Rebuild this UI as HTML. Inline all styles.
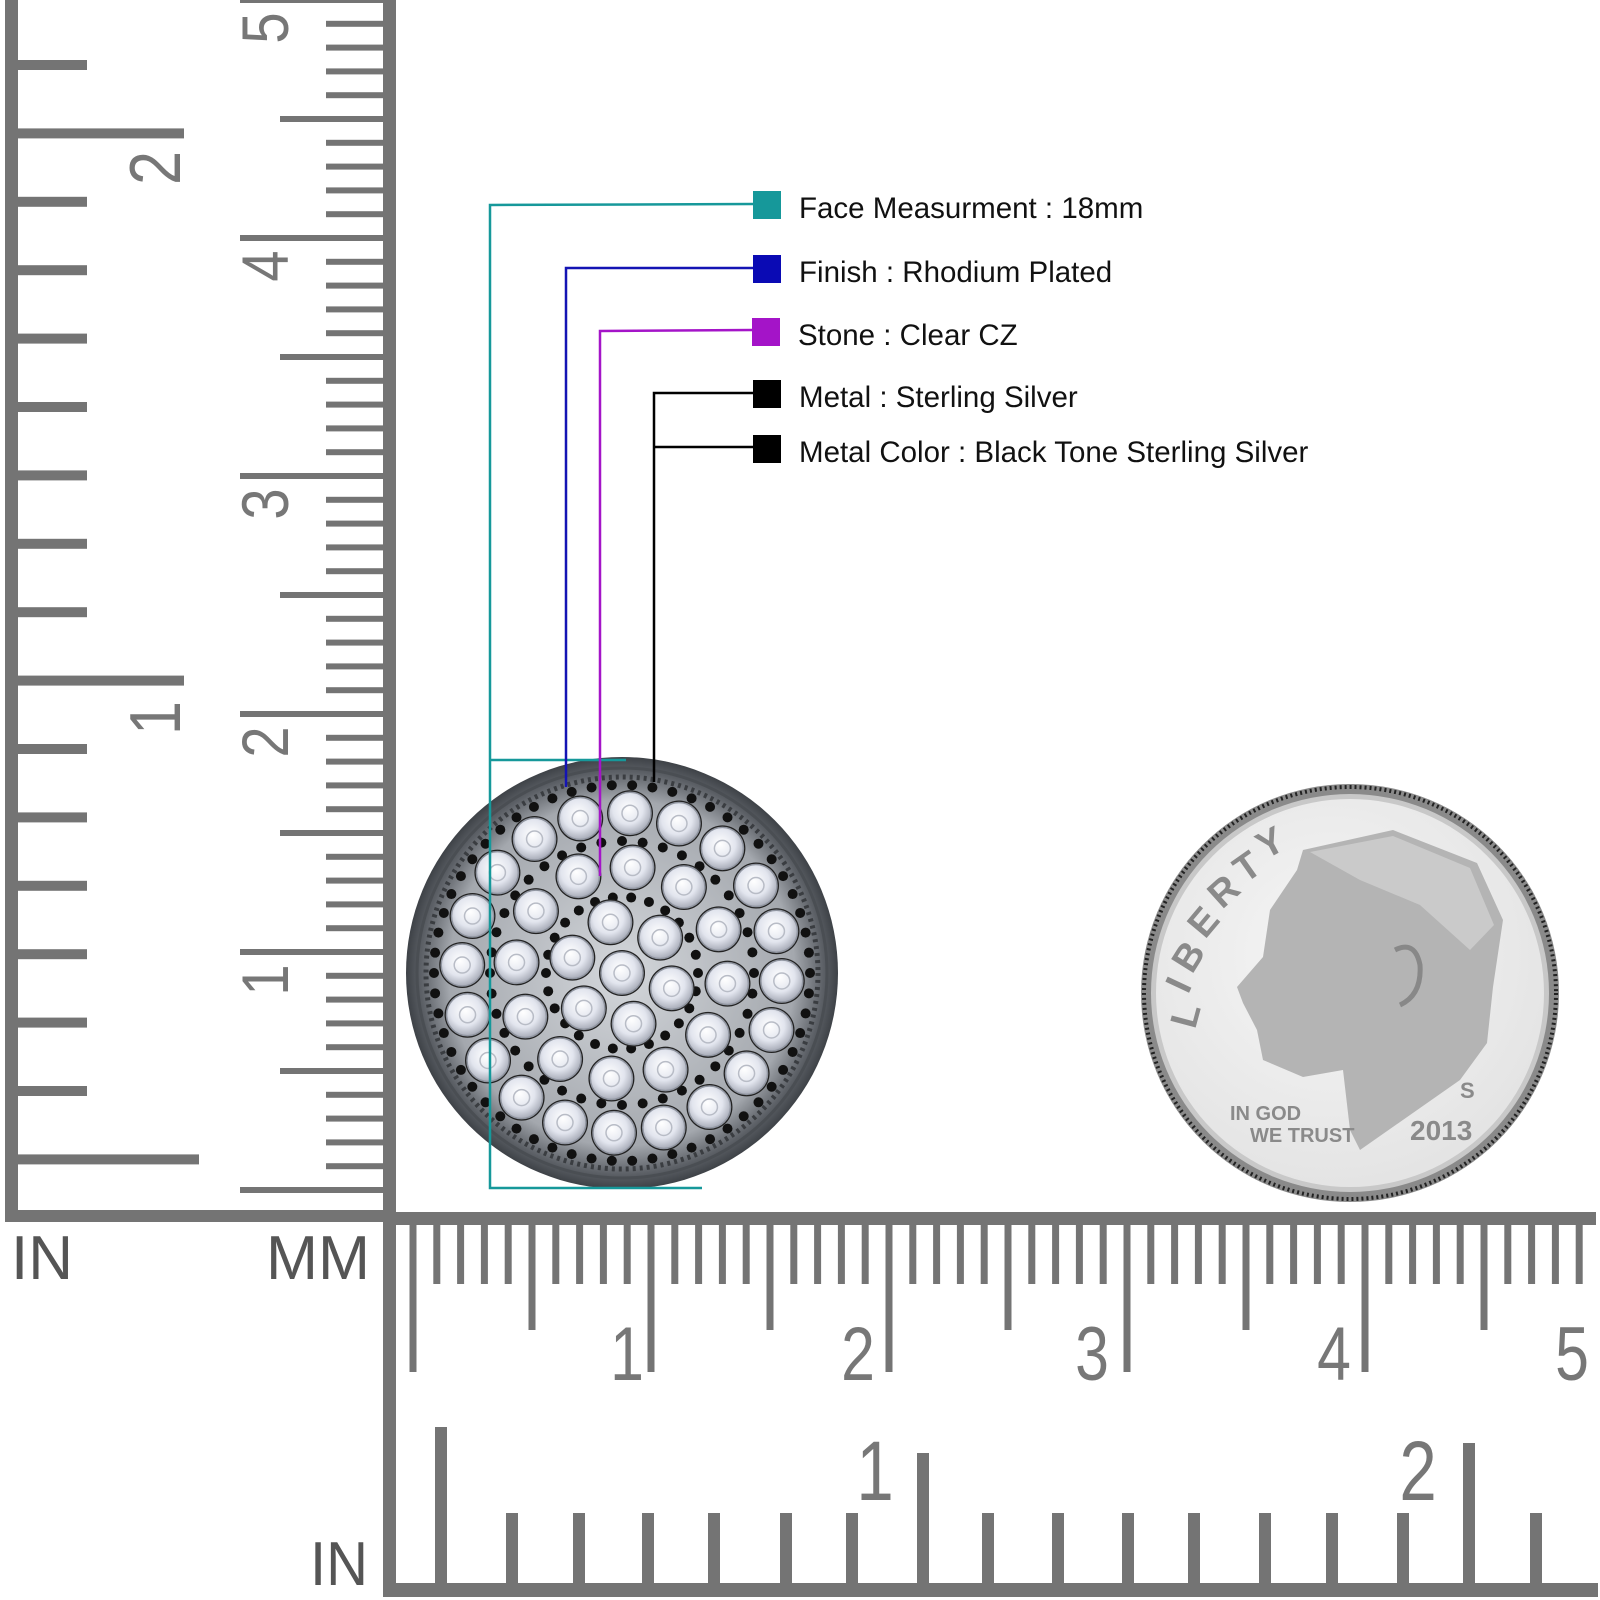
<!DOCTYPE html>
<html><head><meta charset="utf-8">
<style>
html,body{margin:0;padding:0;background:#fff;}
#c{position:relative;width:1600px;height:1600px;overflow:hidden;background:#fff;}
svg{position:absolute;left:0;top:0;}
.lbl{font-family:"Liberation Sans",sans-serif;font-size:29.5px;fill:#111;}
.rn{font-family:"Liberation Sans Narrow","Liberation Sans",sans-serif;fill:#777;}
</style></head>
<body><div id="c">
<svg id="s" width="1600" height="1600" viewBox="0 0 1600 1600" xmlns="http://www.w3.org/2000/svg">
<defs>
<radialGradient id="pg" cx="50%" cy="50%" r="50%">
<stop offset="0" stop-color="#d4d7db"/><stop offset="0.8" stop-color="#a4a8ae"/><stop offset="0.93" stop-color="#5d6167"/><stop offset="1" stop-color="#3e4247"/>
</radialGradient>
<radialGradient id="st" cx="45%" cy="40%" r="60%">
<stop offset="0" stop-color="#ffffff"/><stop offset="0.6" stop-color="#e2e5ee"/><stop offset="1" stop-color="#a8acb8"/>
</radialGradient>
<radialGradient id="dg" cx="45%" cy="40%" r="60%">
<stop offset="0" stop-color="#f6f6f6"/><stop offset="1" stop-color="#e4e4e4"/>
</radialGradient>
</defs>
<g id="rul" fill="#747474"></g>
<g class="rn" font-size="66">
<text transform="translate(288,28) rotate(-90) scale(0.85,1)" text-anchor="middle">5</text>
<text transform="translate(288,266) rotate(-90) scale(0.85,1)" text-anchor="middle">4</text>
<text transform="translate(288,504) rotate(-90) scale(0.85,1)" text-anchor="middle">3</text>
<text transform="translate(288,742) rotate(-90) scale(0.85,1)" text-anchor="middle">2</text>
<text transform="translate(288,980) rotate(-90) scale(0.85,1)" text-anchor="middle">1</text>
<text transform="translate(180,168) rotate(-90) scale(0.85,1)" text-anchor="middle" font-size="72">2</text>
<text transform="translate(180,718) rotate(-90) scale(0.85,1)" text-anchor="middle" font-size="72">1</text>
</g>
<g class="rn" font-size="76">
<text transform="translate(627,1380) scale(0.8,1)" text-anchor="middle">1</text>
<text transform="translate(858,1380) scale(0.8,1)" text-anchor="middle">2</text>
<text transform="translate(1092,1380) scale(0.8,1)" text-anchor="middle">3</text>
<text transform="translate(1334,1380) scale(0.8,1)" text-anchor="middle">4</text>
<text transform="translate(1572,1380) scale(0.8,1)" text-anchor="middle">5</text>
<text transform="translate(875,1500) scale(0.8,1)" text-anchor="middle" font-size="84">1</text>
<text transform="translate(1418,1500) scale(0.8,1)" text-anchor="middle" font-size="84">2</text>
</g>
<g font-family="Liberation Sans Narrow,Liberation Sans,sans-serif" fill="#555" font-size="62">
<text x="11" y="1279" textLength="62" lengthAdjust="spacingAndGlyphs">IN</text>
<text x="266" y="1279" textLength="104" lengthAdjust="spacingAndGlyphs">MM</text>
<text x="310" y="1585" textLength="58" lengthAdjust="spacingAndGlyphs">IN</text>
</g>

<circle cx="622" cy="973" r="216" fill="url(#pg)"/>
<circle cx="622" cy="973" r="205" fill="none" stroke="#4a4e53" stroke-width="3"/>
<circle cx="622" cy="973" r="196" fill="none" stroke="#3a3d41" stroke-width="5" stroke-dasharray="3 4"/>
<g id="pend"></g>

<circle cx="1350" cy="993" r="209" fill="#8a8a8a"/>
<circle cx="1350" cy="993" r="206" fill="none" stroke="#222" stroke-width="4" stroke-dasharray="2 3"/>
<circle cx="1350" cy="993" r="199" fill="#c8c8c8"/>
<circle cx="1350" cy="993" r="194" fill="url(#dg)"/>
<path d="M1303,850 L1393,830 L1477,863 L1503,920 L1493,987 L1487,1043 L1460,1080 L1360,1150 L1350,1130 L1343,1070 L1303,1077 L1263,1060 L1257,1030 L1243,1003 L1237,987 L1263,957 L1270,910 L1297,870 Z" fill="#b4b4b4"/>
<path d="M1310,852 L1393,836 L1470,868 L1494,925 L1470,950 L1420,905 L1360,880 Z" fill="#cacaca"/>
<path d="M1395,950 q20,-10 25,15 q2,30 -20,40" fill="none" stroke="#888" stroke-width="5"/>
<g font-family="Liberation Sans,sans-serif" font-weight="bold" fill="#8a8a8a">
<text font-size="38" transform="translate(1195,1030) rotate(-75)">L</text>
<text font-size="38" transform="translate(1188,995) rotate(-65)">I</text>
<text font-size="38" transform="translate(1192,975) rotate(-58)">B</text>
<text font-size="38" transform="translate(1205,940) rotate(-50)">E</text>
<text font-size="38" transform="translate(1222,910) rotate(-42)">R</text>
<text font-size="38" transform="translate(1245,884) rotate(-35)">T</text>
<text font-size="38" transform="translate(1265,860) rotate(-28)">Y</text>
<text font-size="20" x="1230" y="1120">IN GOD</text>
<text font-size="20" x="1250" y="1142">WE TRUST</text>
<text font-size="28" x="1410" y="1140">2013</text>
<text font-size="22" x="1460" y="1098">S</text>
</g>

<g fill="none" stroke-width="2.5">
<polyline points="753,204 490,205 490,1188 702,1188" stroke="#16989a"/>
<line x1="490" y1="760" x2="626" y2="760" stroke="#16989a"/>
<polyline points="753,268 566,268 566,787" stroke="#1414b4"/>
<polyline points="753,330 600,331 600,876" stroke="#a414c8"/>
<polyline points="753,393 654,393 654,782" stroke="#000"/>
<line x1="654" y1="447" x2="753" y2="447" stroke="#000"/>
</g>
<rect x="753" y="191" width="28" height="28" fill="#16989a"/>
<rect x="753" y="255" width="28" height="28" fill="#0a0ab4"/>
<rect x="752" y="318" width="28" height="28" fill="#a414c8"/>
<rect x="753" y="380" width="28" height="28" fill="#000"/>
<rect x="753" y="435" width="28" height="28" fill="#000"/>
<text class="lbl" x="799" y="218">Face Measurment : 18mm</text>
<text class="lbl" x="799" y="282">Finish : Rhodium Plated</text>
<text class="lbl" x="798" y="345">Stone : Clear CZ</text>
<text class="lbl" x="799" y="407">Metal : Sterling Silver</text>
<text class="lbl" x="799" y="462">Metal Color : Black Tone Sterling Silver</text>
</svg>
</div>
<script>
(function(){
var NS="http://www.w3.org/2000/svg";
var g=document.getElementById('rul');
function r(x,y,w,h){var e=document.createElementNS(NS,'rect');e.setAttribute('x',x);e.setAttribute('y',y);e.setAttribute('width',w);e.setAttribute('height',h);g.appendChild(e);}
r(5,0,13,1222); r(383,0,13,1222); r(5,1210,391,12);
for(var k=0;k<=16;k++){var y=65+68.4*k;var len=(k==1||k==9)?169:(k==16?184:72);r(15,y-5,len,10);}
for(var m=0;m<=50;m++){var y=1190-23.8*m;if(y<-5)continue;var len=(m%10==0)?146:(m%5==0)?106:60;r(386-len,y-3,len,6);}
r(383,1212,13,385); r(386,1212,1210,13); r(383,1583,1215,14);
for(var m=0;m<=50;m++){var x=413+23.8*m;if(x>1598)continue;var len=(m%10==0)?150:(m%5==0)?108:62;r(x-3.5,1222,7,len);}
var xs=[441,512,579,648,714,786,852,923,988,1058,1128,1194,1265,1332,1403,1469,1536];
for(var i=0;i<xs.length;i++){var top=1513;if(i==0)top=1427;if(i==7)top=1453;if(i==15)top=1443;r(xs[i]-6,top,12,1590-top);}
var p=document.getElementById('pend');var cx=622,cy=973;
function c(x,y,rad,fill,st){var e=document.createElementNS(NS,'circle');e.setAttribute('cx',x);e.setAttribute('cy',y);e.setAttribute('r',rad);e.setAttribute('fill',fill);if(st){e.setAttribute('stroke',st);e.setAttribute('stroke-width',1.5);}p.appendChild(e);}
var dr=[[76,26],[132,40],[188,58]];
dr.forEach(function(d){for(var i=0;i<d[1];i++){var a=i/d[1]*Math.PI*2;c(cx+d[0]*Math.cos(a),cy+d[0]*Math.sin(a),5,'#111');}});
var rings=[[0,1,0],[52,6,0.3],[106,12,0.1],[160,20,0.05]];
rings.forEach(function(R){for(var i=0;i<R[1];i++){var a=i/R[1]*Math.PI*2+R[2];var x=cx+R[0]*Math.cos(a),y=cy+R[0]*Math.sin(a);c(x,y,23,'#222');c(x,y,21,'url(#st)','#9095a0');c(x,y,8,'none','#b8bcc6');}});
})();
</script>
</body></html>
